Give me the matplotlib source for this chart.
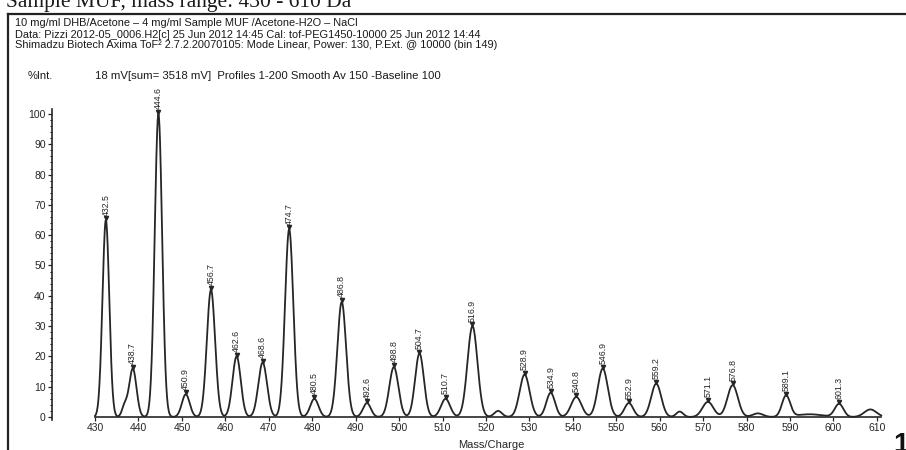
import numpy as np
import matplotlib
matplotlib.use("Agg")
import matplotlib.pyplot as plt
from matplotlib.lines import Line2D

# labelled peaks (m/z, %Int, width)
peak_mz = [432.5, 438.7, 444.6, 450.9, 456.7, 462.6, 468.6, 474.7, 480.5,
           486.8, 492.6, 498.8, 504.7, 510.7, 516.9, 528.9, 534.9, 540.8,
           546.9, 552.9, 559.2, 571.1, 576.8, 589.1, 601.3]
peak_int = [65, 16, 100, 7.5, 42, 20, 18, 62, 6,
            38, 4.6, 16.5, 21, 6, 30, 14, 8, 6.6,
            16, 4.6, 11, 5, 10.5, 7, 4.3]
peak_sig = [0.78, 0.85, 0.85, 0.9, 0.95, 0.95, 1.0, 0.95, 0.95,
            1.0, 0.9, 1.05, 1.0, 1.05, 1.15, 1.15, 1.0, 1.2,
            1.15, 1.0, 1.15, 1.25, 1.2, 0.95, 1.0]
peak_lbl = ["432.5", "438.7", "444.6", "450.9", "456.7", "462.6", "468.6",
            "474.7", "480.5", "486.8", "492.6", "498.8", "504.7", "510.7",
            "516.9", "528.9", "534.9", "540.8", "546.9", "552.9", "559.2",
            "571.1", "576.8", "589.1", "601.3"]

# small unlabelled bumps / shoulders
minor_mz = [436.8, 522.8, 564.6, 582.6, 594.5, 608.5]
minor_int = [3.5, 2.0, 1.8, 1.2, 0.9, 2.5]
minor_sig = [0.6, 0.9, 0.8, 1.2, 3.0, 1.4]

xticks = list(range(430, 611, 10))
yticks = list(range(0, 101, 10))

header = [
    "10 mg/ml DHB/Acetone \u2013 4 mg/ml Sample MUF /Acetone-H2O \u2013 NaCl",
    "Data: Pizzi 2012-05_0006.H2[c] 25 Jun 2012 14:45 Cal: tof-PEG1450-10000 25 Jun 2012 14:44",
    "Shimadzu Biotech Axima ToF\u00b2 2.7.2.20070105: Mode Linear, Power: 130, P.Ext. @ 10000 (bin 149)",
]

plt.rcParams['font.family'] = ['Liberation Sans', 'DejaVu Sans']

fig = plt.figure(figsize=(9.06, 4.5), dpi=100)
W, H = 906, 450

def fx(px):
    return px / W

def fy(py):
    return 1 - py / H

ink = '#262626'

# spectrum trace built from the peak table
mz = np.linspace(430, 611, 3000)
trace = np.zeros_like(mz)
for c, h, s in zip(peak_mz + minor_mz, peak_int + minor_int, peak_sig + minor_sig):
    trace += h * np.exp(-0.5 * ((mz - c) / s) ** 2)

ax = fig.add_axes([fx(52), fy(420), fx(886) - fx(52), fy(105) - fy(420)])
ax.plot(mz, trace, color=ink, lw=1.3)
ax.set_xlim(420.1, 612.1)
ax.set_ylim(-0.99, 102.97)

for c, h, t in zip(peak_mz, peak_int, peak_lbl):
    ax.plot([c], [h + 0.6], marker='v', ms=3, color=ink, clip_on=False)
    ax.text(c, h + 1.5, t, rotation=90, ha='center', va='bottom',
            fontsize=6.3, color=ink, clip_on=False)

for side in ['top', 'right']:
    ax.spines[side].set_visible(False)
ax.spines['bottom'].set_position(('data', 0))
ax.spines['bottom'].set_bounds(430, 611)
ax.spines['left'].set_bounds(-1, 101.5)
for side in ['bottom', 'left']:
    ax.spines[side].set_linewidth(1.2)
    ax.spines[side].set_color(ink)

ax.set_xticks(xticks)
ax.set_yticks(yticks)
ax.set_yticks(np.arange(0, 101, 2), minor=True)
ax.tick_params(axis='both', labelsize=7.5, colors=ink, direction='out',
               length=3, width=0.9, pad=1.5)
ax.tick_params(axis='y', which='minor', length=1.5, width=0.7)

fig.text(fx(491), fy(445), "Mass/Charge", fontsize=8, ha='center',
         va='center', color=ink)

# header block
for i, line in enumerate(header):
    fig.text(fx(15), fy(23.5 + 11 * i), line, fontsize=7.9, va='center',
             ha='left', color='#1a1a1a')
fig.text(fx(28), fy(76), "%Int.", fontsize=8, va='center', color='#1a1a1a')
fig.text(fx(95), fy(76), "18 mV[sum= 3518 mV]  Profiles 1-200 Smooth Av 150 -Baseline 100",
         fontsize=8.2, va='center', color='#1a1a1a')

# clipped caption from the page above and the frame
fig.text(fx(6), fy(7.5), "Sample MUF, mass range: 430 - 610 Da", fontsize=15.5,
         family='Liberation Serif', va='baseline', color='#1a1a1a')
fig.add_artist(Line2D([fx(8), 1.0], [fy(14), fy(14)], color='#222222', lw=1.6))
fig.add_artist(Line2D([fx(8), fx(8)], [fy(14), 0.0], color='#222222', lw=1.6))
fig.text(fx(893), fy(452), "1", fontsize=20, fontweight='bold',
         va='baseline', color='#111111')

fig.savefig("out.png", dpi=100)
